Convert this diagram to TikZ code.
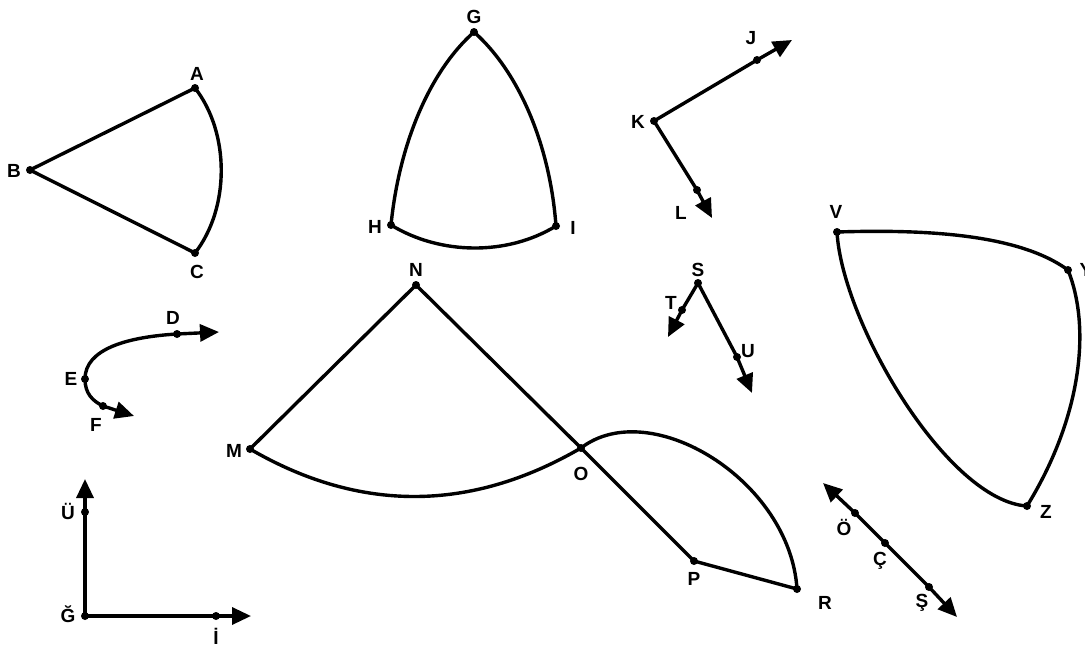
\documentclass[tikz,border=0pt]{standalone}
\usepackage{fontspec}
\setmainfont{Liberation Sans}
\usetikzlibrary{arrows.meta}
\begin{document}
\begin{tikzpicture}[x=1pt,y=-1pt,
  ln/.style={line width=3.4pt,line cap=round,line join=round},
  arr/.style={ln,-{Triangle[length=19pt,width=17pt]}},
  darr/.style={ln,{Triangle[length=19pt,width=17pt]}-{Triangle[length=19pt,width=17pt]}},
  dotmark/.style={circle,fill=black,inner sep=0pt,minimum size=8pt},
  lbl/.style={font=\fontsize{19}{21}\selectfont\bfseries,inner sep=0pt}]
\useasboundingbox (0,0) rectangle (1085,648);
% points
\coordinate (A) at (195,88);  \coordinate (B) at (30,170);  \coordinate (C) at (195,253);
\coordinate (G) at (474,32);  \coordinate (H) at (391,225); \coordinate (I) at (556,226);
\coordinate (J) at (757,60);  \coordinate (K) at (654,121); \coordinate (L) at (697,190);
\coordinate (Jt) at (792,40); \coordinate (Lt) at (712,218);
\coordinate (V) at (837,232); \coordinate (Y) at (1068,270); \coordinate (Z) at (1027,506);
\coordinate (S) at (698,283); \coordinate (T) at (682,310); \coordinate (U) at (737,357);
\coordinate (Tt) at (668,337); \coordinate (Ut) at (752,393);
\coordinate (D) at (177,334); \coordinate (E) at (85,379);  \coordinate (F) at (103,406);
\coordinate (Dt) at (219,332); \coordinate (Ft) at (134,416);
\coordinate (N) at (416,285); \coordinate (M) at (250,449); \coordinate (O) at (581,448);
\coordinate (P) at (694,561); \coordinate (R) at (797,589);
\coordinate (UU) at (85,512); \coordinate (GG) at (85,616); \coordinate (II) at (216,616);
\coordinate (UUt) at (85,479); \coordinate (IIt) at (251,616);
\coordinate (OO) at (855,513); \coordinate (CC) at (885,543); \coordinate (SS) at (929,587);
\coordinate (OOt) at (823,483); \coordinate (SSt) at (957,617);
% ABC
\draw[ln] (A) -- (B) -- (C) .. controls (230,208) and (230,133) .. (A);
% GHI
\draw[ln] (G) .. controls (429,72) and (399,145) .. (H)
          .. controls (440,255) and (507,256) .. (I)
          .. controls (550,145) and (519,72) .. (G);
% JKL
\draw[arr] (K) -- (J) -- (Jt);
\draw[arr] (K) -- (L) -- (Lt);
% VYZ
\draw[ln] (V) .. controls (930,229) and (1020,235) .. (Y)
          .. controls (1092,330) and (1080,420) .. (Z)
          .. controls (947,501) and (842,322) .. (V);
% STU
\draw[arr] (S) -- (T) -- (Tt);
\draw[arr] (S) -- (U) -- (Ut);
% DEF
\draw[darr] (Ft) -- (F) .. controls (93,401) and (85,394) .. (E)
          .. controls (85,349) and (127,337) .. (D) -- (Dt);
% MNOPR
\draw[ln] (M) -- (N) -- (O) -- (P) -- (R);
\draw[ln] (M) .. controls (360,513) and (471,512) .. (O)
          .. controls (650,395) and (790,480) .. (R);
% U G I axes
\draw[darr] (UUt) -- (UU) -- (GG) -- (II) -- (IIt);
% O C S line
\draw[darr] (OOt) -- (OO) -- (CC) -- (SS) -- (SSt);
% dots
\foreach \p in {A,B,C,G,H,I,J,K,L,V,Y,Z,S,T,U,D,E,F,N,M,O,P,R,UU,GG,II,OO,CC,SS}
  \node[dotmark] at (\p) {};
% labels
\node[lbl] (lA) at (197,74) {A};
\node[lbl] (lB) at (14,171) {B};
\node[lbl] (lC) at (197,272) {C};
\node[lbl] (lD) at (173,318) {D};
\node[lbl] (lE) at (71,379) {E};
\node[lbl] (lF) at (96,425) {F};
\node[lbl] (lG) at (474,17) {G};
\node[lbl] (lH) at (375,227) {H};
\node[lbl] (lI) at (573,228) {I};
\node[lbl] (lJ) at (751,38) {J};
\node[lbl] (lK) at (638,122) {K};
\node[lbl] (lL) at (681,213) {L};
\node[lbl] (lM) at (234,451) {M};
\node[lbl] (lN) at (416,270) {N};
\node[lbl] (lO) at (581,474) {O};
\node[lbl] (lP) at (694,579) {P};
\node[lbl] (lR) at (825,603) {R};
\node[lbl] (lS) at (698,270) {S};
\node[lbl] (lT) at (671,303) {T};
\node[lbl] (lU) at (748,351) {U};
\node[lbl] (lV) at (836,212) {V};
\node[lbl] (lY) at (1086,270) {Y};
\node[lbl] (lZ) at (1046,512) {Z};
\node[lbl] (lOO) at (844,527) {Ö};
\node[lbl] (lCC) at (880,561) {Ç};
\node[lbl] (lSS) at (922,603) {Ş};
\node[lbl] (lUU) at (68,511) {Ü};
\node[lbl] (lGG) at (68,614) {Ğ};
\node[lbl] (lII) at (216,636) {İ};
\end{tikzpicture}
\end{document}
